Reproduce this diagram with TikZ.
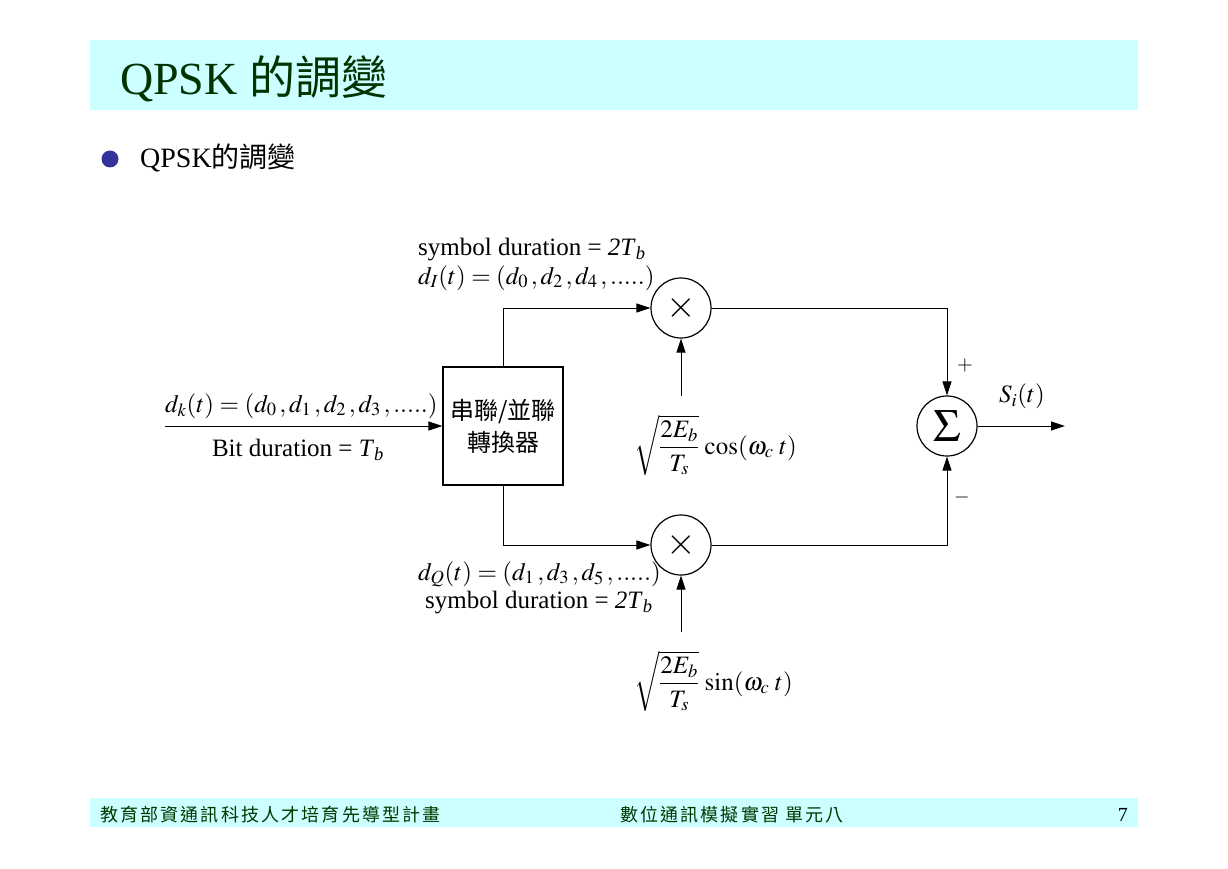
\documentclass[tikz,border=0pt]{standalone}
\usepackage{mathptmx}
\usepackage{fontspec}
\setmainfont{Liberation Serif}
\newfontfamily\cjk{Noto Sans CJK TC}
\newfontfamily\cjkfoot[LetterSpace=12]{Noto Sans CJK TC}
\usetikzlibrary{arrows.meta, positioning, calc}
\definecolor{bandcyan}  {RGB}{204,255,255}
\definecolor{titlegreen}{RGB}{0,51,0}
\definecolor{footgreen} {RGB}{0,56,0}
\definecolor{bulletblue}{RGB}{51,51,153}
\newcommand{\gap}{\mkern2mu}

\begin{document}
\begin{tikzpicture}[x=1pt, y=-1pt,
    every node/.style={inner sep=0pt, font=\fontsize{25}{29}\selectfont},
    sig/.style={line width=1pt, -{Triangle[length=14pt, width=9pt]}},
    mixer/.style={circle, draw, line width=1.2pt, minimum size=60pt},
    convbox/.style={draw, line width=1.2pt, minimum width=120pt, minimum height=118pt,
                    align=center, font=\cjk\fontsize{24}{32}\selectfont},
    lbl/.style={anchor=base west}]
  \useasboundingbox (0,0) rectangle (1228,869);

  % title band and bullet
  \fill[bandcyan] (90,40) rectangle (1138,110);
  \node[lbl, text=titlegreen, font=\fontsize{46}{50}\selectfont] (title) at (120,95)
    {QPSK {\cjk 的調變}};
  \node[circle, fill=bulletblue, minimum size=17pt] (dot) at (110,159) {};
  \node[lbl, font=\fontsize{28}{32}\selectfont] (head) at (140,168) {QPSK{\cjk 的調變}};

  % blocks
  \node[convbox] (blk) at (503,426) {串聯/並聯\\轉換器};
  \node[mixer, font=\fontsize{38}{38}\selectfont] (mI) at (681,308) {$\times$};
  \node[mixer, font=\fontsize{38}{38}\selectfont] (mQ) at (681,545) {$\times$};
  \node[mixer, font=\fontsize{46}{46}\selectfont] (sum) at (947,426) {$\Sigma$};

  \coordinate (in)    at (165,426);
  \coordinate (out)   at (1065,426);
  \coordinate (cosin) at (681,396);
  \coordinate (sinin) at (681,632);

  % connectors
  \draw[sig] (in) -- (blk.west);
  \draw[sig] (blk.north) |- (mI.west);
  \draw[sig] (blk.south) |- (mQ.west);
  \draw[sig] (cosin) -- (mI.south);
  \draw[sig] (sinin) -- (mQ.south);
  \draw[sig] (mI.east) -| (sum.north);
  \draw[sig] (mQ.east) -| (sum.south);
  \draw[sig] (sum.east) -- (out);

  % labels
  \node[lbl] (dk)   at (165,412) {$d_k(t) = (d_0\gap, d_1\gap, d_2\gap, d_3\gap, .....)$};
  \node[anchor=base] (bit) at (298,456) {Bit duration = \textit{T}\textsubscript{\textit{b}}};
  \node[lbl] (symI) at (418,255) {symbol duration = \textit{2T}\textsubscript{\textit{b}}};
  \node[lbl] (dI)   at (418,284) {$d_I(t) = (d_0\gap, d_2\gap, d_4\gap, .....)$};
  \node[lbl] (dQ)   at (418,580) {$d_Q(t) = (d_1\gap, d_3\gap, d_5\gap, .....)$};
  \node[lbl] (symQ) at (425,608) {symbol duration = \textit{2T}\textsubscript{\textit{b}}};
  \node[anchor=west] (cosf) at (634,445) {$\displaystyle\sqrt{\frac{2E_b}{T_s}}\,\cos(\omega_c\;t)$};
  \node[anchor=west] (sinf) at (634,681) {$\displaystyle\sqrt{\frac{2E_b}{T_s}}\,\sin(\omega_c\;t)$};
  \node[font=\fontsize{20}{20}\selectfont] (plus)  at (965,366) {$+$};
  \node[font=\fontsize{20}{20}\selectfont] (minus) at (962,497) {$-$};
  \node (si) at (1022,396) {$S_i(t)$};

  % footer band
  \fill[bandcyan] (90,798) rectangle (1138,827);
  \node[lbl, text=footgreen, font=\cjkfoot\fontsize{18}{20}\selectfont] (foot1) at (100,821)
    {教育部資通訊科技人才培育先導型計畫};
  \node[lbl, text=footgreen, font=\cjkfoot\fontsize{18}{20}\selectfont] (foot2) at (620,821)
    {數位通訊模擬實習 單元八};
  \node[anchor=base east, font=\fontsize{20}{20}\selectfont] (page) at (1128,821) {7};
\end{tikzpicture}
\end{document}
